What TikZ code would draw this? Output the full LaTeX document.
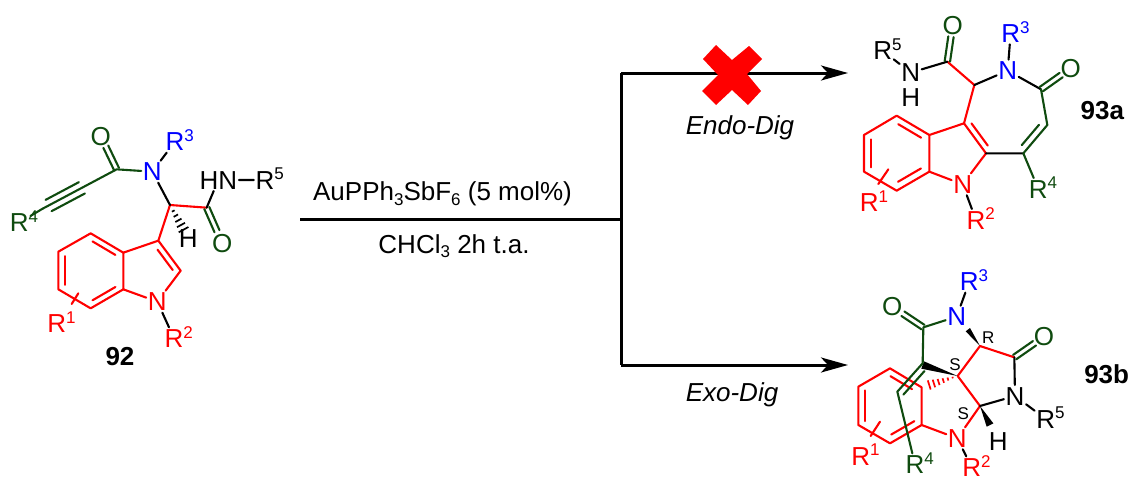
\documentclass[tikz,border=0pt]{standalone}
\usepackage{fontspec}
\setmainfont{Liberation Sans}
\usetikzlibrary{calc,arrows.meta}
\definecolor{cred}{RGB}{255,0,0}
\definecolor{cgreen}{RGB}{15,75,15}
\definecolor{cblue}{RGB}{0,0,255}
\newcommand{\bigf}{\fontsize{26}{28}\selectfont}
\newcommand{\smallf}{\fontsize{17}{18}\selectfont}
\newcommand{\Rs}[1]{R\rlap{\raisebox{9.5pt}{\smallf #1}}}
\newcommand{\sub}[1]{\raisebox{-4.5pt}{\smallf #1}}
\newcommand{\sline}[6]{\draw[#1] ($(#2)!#4!(#3)!#6!90:(#3)$) -- ($(#2)!#5!(#3)!#6!90:(#3)$);}
\newcommand{\cdo}[4]{\sline{#1}{#2}{#3}{0.01}{#4}{2.7pt}\sline{#1}{#2}{#3}{0.01}{#4}{-2.7pt}}
\tikzset{
  atom/.style={inner sep=1.5pt,text height=18.6pt,text depth=0pt,font=\bigf},
  txt/.style={inner sep=0pt,font=\bigf},
  cpd/.style={inner sep=0pt,font=\bigf\bfseries},
  tinylab/.style={inner sep=0pt,font=\smallf},
  bk/.style={black,line width=2.1pt,line cap=round,line join=round},
  rd/.style={cred,line width=2.1pt,line cap=round,line join=round},
  gr/.style={cgreen,line width=2.1pt,line cap=round,line join=round},
  rx/.style={black,line width=3pt},
  arr/.style={rx,-{Stealth[length=27pt,width=15pt,inset=7pt]}},
  zoomed/.style={x=0.33333pt,y=-0.33333pt}
}
\begin{document}
\begin{tikzpicture}[x=1pt,y=-1pt]
\useasboundingbox (0,0) rectangle (1132,479);

% ---------- reaction arrows
\coordinate (start) at (300,219);
\coordinate (fork) at (621,219);
\coordinate (topc) at (621,73);
\coordinate (botc) at (621,365);
\coordinate (topt) at (848,73);
\coordinate (bott) at (848,365);
\draw[rx] (start) -- (fork);
\draw[arr] (topc) -- (topt);
\draw[arr] (botc) -- (bott);
\draw[rx,line cap=square] (topc) -- (botc);
\fill[cred] (716,45) -- (732,60) -- (749,46) -- (762,59) -- (747,74) -- (761,91) -- (748,105) -- (732,90) -- (716,105) -- (702,91) -- (718,75) -- (703,59) -- cycle;
\node[txt] (cond1) at (442.5,194) {AuPPh\sub{3}SbF\sub{6} (5 mol\%)};
\node[txt] (cond2) at (454,246) {CHCl\sub{3} 2h t.a.};
\node[txt,font=\bigf\itshape] (endo) at (740,128) {Endo-Dig};
\node[txt,font=\bigf\itshape] (exo) at (732,395) {Exo-Dig};

% ---------- compound 92
\begin{scope}[shift={(0,110)},zoomed]
\coordinate (a1) at (350,178);
\coordinate (a2) at (510,285);
\coordinate (a3) at (620,293);
\coordinate (a4) at (475,392);
\coordinate (a5) at (370,428);
\coordinate (a6) at (370,538);
\coordinate (a7) at (542,482);
\coordinate (a8) at (272,370);
\coordinate (a9) at (175,425);
\coordinate (a10) at (175,538);
\coordinate (a11) at (272,595);
\coordinate (a12) at (128,296);
\coordinate (a13) at (235,550);
\coordinate (a14) at (215,582);
\node[atom,text=cgreen] (aO1) at (302,78) {O};
\node[atom,text=cblue] (aN1) at (457,185) {N};
\node[atom,text=cblue] (aR3) at (525,95) {\Rs{3}};
\node[atom,text=cgreen] (aR4) at (58,338) {\Rs{4}};
\node[atom] (aH) at (565,385) {H};
\node[atom] (aNH) at (655,210) {HN};
\node[atom] (aR5) at (795,210) {\Rs{5}};
\node[atom,text=cgreen] (aO2) at (667,400) {O};
\node[atom,text=cred] (aN2) at (472,575) {N};
\node[atom,text=cred] (aR2) at (522,685) {\Rs{2}};
\node[atom,text=cred] (aR1) at (170,640) {\Rs{1}};
\node[cpd] (a92) at (360,740) {92};
\draw[rd] (a2) -- (a3) (a2) -- (a4) (a4) -- (a5) -- (a6) (a6) -- (aN2) (aN2) -- (a7) -- (a4);
\draw[rd] (a5) -- (a8) -- (a9) -- (a10) -- (a11) -- (a6);
\draw[rd] (a13) -- (a14);
\sline{rd}{a4}{a7}{0.18}{0.86}{-6pt}
\sline{rd}{a5}{a8}{0.15}{0.85}{6pt}
\sline{rd}{a9}{a10}{0.12}{0.88}{7pt}
\sline{rd}{a6}{a11}{0.15}{0.85}{-6pt}
\draw[gr] (a1) -- (aN1) (a1) -- (a12);
\sline{gr}{a1}{a12}{0.47}{0.92}{6.4pt}
\sline{gr}{a1}{a12}{0.47}{0.92}{-6.4pt}
\cdo{gr}{a1}{aO1}{0.68}
\draw[gr] (a12) -- (aR4);
\cdo{gr}{a3}{aO2}{0.66}
\draw[bk] (aN1) -- (a2) (aN1) -- (aR3) (a3) -- (aNH) (aNH) -- (aR5) (aN2) -- (aR2);
\foreach \t/\w in {0.18/1.5,0.32/2.5,0.46/3.5,0.6/4.5,0.74/5.5}{
  \draw[black,line width=1.7pt] ($(a2)!\t!(aH)!\w pt!90:(aH)$) -- ($(a2)!\t!(aH)!-\w pt!90:(aH)$);
}
\end{scope}

% ---------- compound 93a
\begin{scope}[shift={(840,0)},zoomed]
\coordinate (b1) at (322,185);
\coordinate (b2) at (403,255);
\coordinate (b3) at (603,268);
\coordinate (b4) at (622,375);
\coordinate (b5) at (550,460);
\coordinate (b6) at (438,460);
\coordinate (b7) at (372,370);
\coordinate (b8) at (268,405);
\coordinate (b9) at (268,515);
\coordinate (b10) at (170,347);
\coordinate (b11) at (72,405);
\coordinate (b12) at (72,515);
\coordinate (b13) at (170,572);
\coordinate (b14) at (145,508);
\coordinate (b15) at (115,552);
\node[atom,text=cgreen] (bO1) at (338,75) {O};
\node[atom] (bR5) at (128,152) {\Rs{5}};
\node[atom] (bN1) at (212,218) {N};
\node[atom] (bH) at (212,292) {H};
\node[atom,text=cblue] (bN2) at (503,212) {N};
\node[atom,text=cblue] (bR3) at (512,100) {\Rs{3}};
\node[atom,text=cgreen] (bO2) at (692,205) {O};
\node[atom,text=cgreen] (bR4) at (595,567) {\Rs{4}};
\node[atom,text=cred] (bN3) at (368,553) {N};
\node[atom,text=cred] (bR2) at (408,660) {\Rs{2}};
\node[atom,text=cred] (bR1) at (88,608) {\Rs{1}};
\node[cpd] (b93) at (787,333) {93a};
\draw[rd] (b1) -- (b2) -- (b7) -- (b8) -- (b9) -- (bN3) -- (b6) -- (b7);
\draw[rd] (b8) -- (b10) -- (b11) -- (b12) -- (b13) -- (b9);
\draw[rd] (b14) -- (b15);
\sline{rd}{b7}{b6}{0.12}{0.86}{6pt}
\sline{rd}{b8}{b10}{0.15}{0.85}{6.5pt}
\sline{rd}{b11}{b12}{0.12}{0.88}{7pt}
\sline{rd}{b9}{b13}{0.15}{0.85}{-7pt}
\draw[bk] (bR5) -- (bN1) (bN1) -- (b1) (b2) -- (bN2) (bN2) -- (bR3) (bN2) -- (b3) (b5) -- (b6) (bN3) -- (bR2);
\draw[gr] (b3) -- (b4) -- (b5) (b5) -- (bR4);
\sline{gr}{b4}{b5}{0.14}{0.86}{-6.5pt}
\cdo{gr}{b1}{bO1}{0.68}
\cdo{gr}{b3}{bO2}{0.68}
\end{scope}

% ---------- compound 93b
\begin{scope}[shift={(840,250)},zoomed]
\coordinate (c1) at (250,232);
\coordinate (c2) at (420,288);
\coordinate (c3) at (523,322);
\coordinate (c4) at (353,378);
\coordinate (c5) at (420,468);
\coordinate (c6) at (248,340);
\coordinate (c7) at (172,425);
\coordinate (c8) at (245,412);
\coordinate (c9) at (245,525);
\coordinate (c10) at (150,355);
\coordinate (c11) at (55,410);
\coordinate (c12) at (55,525);
\coordinate (c13) at (150,580);
\coordinate (c14) at (120,515);
\coordinate (c15) at (92,558);
\node[atom,text=cgreen] (cO1) at (157,170) {O};
\node[atom,text=cblue] (cN1) at (350,200) {N};
\node[atom,text=cblue] (cR3) at (388,95) {\Rs{3}};
\node[atom,text=cgreen] (cO2) at (612,260) {O};
\node[atom] (cN2) at (525,438) {N};
\node[atom] (cR5) at (617,507) {\Rs{5}};
\node[atom] (cH) at (475,575) {H};
\node[atom,text=cred] (cN3) at (352,565) {N};
\node[atom,text=cred] (cR2) at (395,652) {\Rs{2}};
\node[atom,text=cred] (cR1) at (62,618) {\Rs{1}};
\node[atom,text=cgreen] (cR4) at (225,643) {\Rs{4}};
\node[tinylab] (cs1) at (445,262) {R};
\node[tinylab] (cs2) at (345,345) {S};
\node[tinylab] (cs3) at (370,490) {S};
\node[cpd] (c93) at (800,372) {93b};
% red skeleton
\draw[rd] (c8) -- (c10) -- (c11) -- (c12) -- (c13) -- (c9) -- (c8);
\draw[rd] (c9) -- (cN3) -- (c5) -- (c4) -- (c2) -- (c3);
\draw[rd] (c14) -- (c15);
\sline{rd}{c10}{c8}{0.12}{0.8}{-6.5pt}
\sline{rd}{c11}{c12}{0.1}{0.9}{7pt}
\sline{rd}{c9}{c13}{0.12}{0.85}{-7pt}
\foreach \t/\w in {0.14/0.8,0.27/1.6,0.40/2.4,0.53/3.2,0.66/4,0.79/4.8}{
  \draw[cred,line width=1.7pt] ($(c4)!\t!(c8)!\w pt!90:(c8)$) -- ($(c4)!\t!(c8)!-\w pt!90:(c8)$);
}
% black bonds and wedges
\draw[bk] (cN1) -- (cR3) (c3) -- (cN2) (cN2) -- (cR5) (cN2) -- (c5) (cN3) -- (cR2);
\fill[black] (c2) -- (377,244) -- (390,234) -- cycle;
\fill[black] (c5) -- (440,530) -- (460,520) -- cycle;
\fill[black] (c4) -- (252,334) -- (244,356) -- cycle;
% green bonds
\draw[gr] (c1) -- (cN1) (c1) -- (c6) -- (c7) -- (cR4);
\sline{gr}{c6}{c7}{0.12}{0.95}{6.5pt}
\cdo{gr}{c1}{cO1}{0.66}
\cdo{gr}{c3}{cO2}{0.68}
\end{scope}
\end{tikzpicture}
\end{document}
